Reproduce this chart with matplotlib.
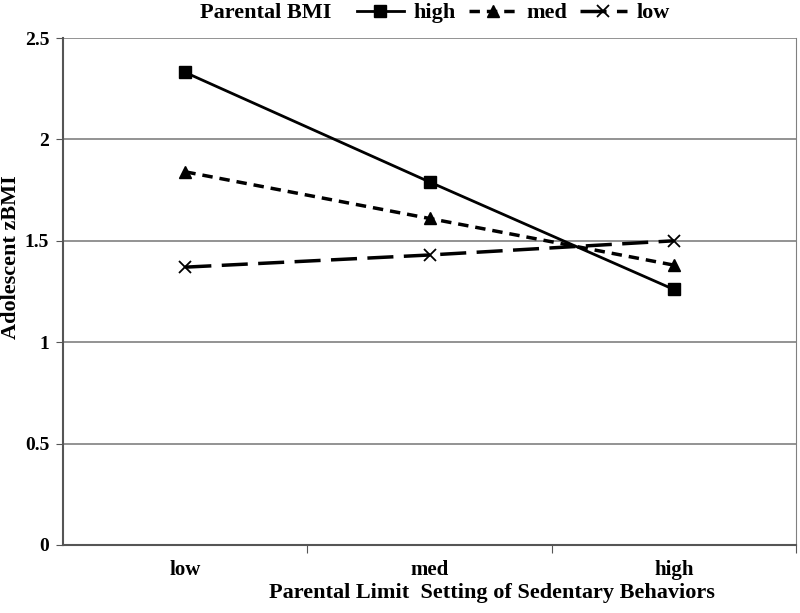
import matplotlib
matplotlib.use("Agg")
import matplotlib.pyplot as plt
import numpy as np

categories = ["low", "med", "high"]
high_bmi = [2.33, 1.79, 1.26]
med_bmi = [1.84, 1.61, 1.38]
low_bmi = [1.37, 1.43, 1.50]
yticks = [0, 0.5, 1, 1.5, 2, 2.5]
ytick_labels = ["0", "0.5", "1", "1.5", "2", "2.5"]

plt.rcParams['font.family'] = ['Liberation Serif', 'DejaVu Serif']
plt.rcParams['font.weight'] = 'bold'

fig = plt.figure(figsize=(8, 6.13), dpi=100)
ax = fig.add_axes([0.079, 0.111, 0.916, 0.827])

x = np.arange(len(categories))
l1, = ax.plot(x, high_bmi, color='black', lw=2, ls='-', marker='s', markersize=9, label='high')
l2, = ax.plot(x, med_bmi, color='black', lw=2.5, ls=(0, (3, 2)), marker='^', markersize=8, label='med')
l3, = ax.plot(x, low_bmi, color='black', lw=2.5, ls=(0, (7.5, 3)), marker='x', markersize=8,
              markeredgewidth=1.3, label='low')

ax.set_xlim(-0.5, 2.5)
ax.set_ylim(0, 2.5)
ax.set_yticks(yticks)
ax.set_yticklabels(ytick_labels, fontsize=14, fontweight='bold')
ax.yaxis.grid(True, color='#808080', lw=1.2)
ax.set_axisbelow(True)

ax.set_xticks([0.5, 1.5, 2.5], minor=False)
ax.set_xticklabels([])
ax.set_xticks(x, minor=True)
ax.set_xticklabels(categories, minor=True, fontsize=15, fontweight='bold')
ax.tick_params(axis='x', which='major', length=6, direction='out', color='#555555')
ax.tick_params(axis='x', which='minor', length=0, pad=11)
ax.tick_params(axis='y', length=5, direction='out', color='#555555', pad=5)

ax.spines['top'].set_visible(False)
ax.spines['right'].set_color('#808080')
ax.spines['left'].set_color('#555555')
ax.spines['bottom'].set_color('#555555')
ax.spines['left'].set_linewidth(1.5)
ax.spines['bottom'].set_linewidth(1.5)

ax.set_xlabel("Parental Limit  Setting of Sedentary Behaviors", fontsize=16, fontweight='bold')
ax.xaxis.set_label_coords((492 - 63) / 733, -(593 - 545) / 507)
ax.xaxis.label.set_va('center')
ax.set_ylabel("Adolescent zBMI", fontsize=16, fontweight='bold')
ax.yaxis.set_label_coords(-(63 - 11) / 733, (545 - 257) / 507)
ax.yaxis.label.set_va('center')

fig.text(200 / 800, 1 - 13 / 613, "Parental BMI", fontsize=16, fontweight='bold', va='center', ha='left')
leg = fig.legend(handles=[l1, l2, l3], loc='center left', bbox_to_anchor=(357 / 800, 1 - 13 / 613), ncol=3,
                 frameon=False, fontsize=16, handlelength=2.1, handletextpad=0.45, columnspacing=0.6,
                 borderaxespad=0, borderpad=0)
for t in leg.get_texts():
    t.set_fontweight('bold')

fig.savefig("out.png", dpi=100)
